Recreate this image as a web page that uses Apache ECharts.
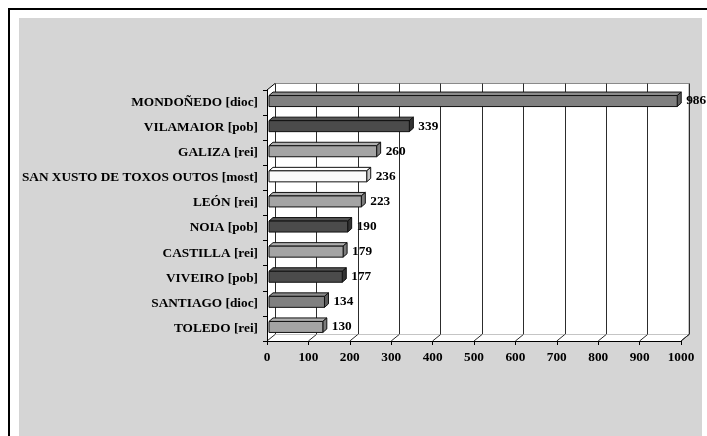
<!DOCTYPE html>
<html>
<head>
<meta charset="utf-8">
<script src="https://cdn.jsdelivr.net/npm/echarts@6/dist/echarts.min.js"></script>
<style>
html,body{margin:0;padding:0;background:#fff;}
#chart{width:707px;height:436px;}
</style>
</head>
<body>
<div id="chart"></div>
<script>
// data
var categories = ['MONDOÑEDO [dioc]', 'VILAMAIOR [pob]', 'GALIZA [rei]', 'SAN XUSTO DE TOXOS OUTOS [most]',
  'LEÓN [rei]', 'NOIA [pob]', 'CASTILLA [rei]', 'VIVEIRO [pob]', 'SANTIAGO [dioc]', 'TOLEDO [rei]'];
var values = [986, 339, 260, 236, 223, 190, 179, 177, 134, 130];
var kinds = ['dioc', 'pob', 'rei', 'most', 'rei', 'pob', 'rei', 'pob', 'dioc', 'rei'];
var xTicks = [0, 100, 200, 300, 400, 500, 600, 700, 800, 900, 1000];

// colour for each kind: [front, side, top]
var kindColor = {
  dioc: ['#808080', '#5c5c5c', '#8c8c8c'],
  pob:  ['#4b4b4b', '#333333', '#555555'],
  rei:  ['#a4a4a4', '#7c7c7c', '#b0b0b0'],
  most: ['#fafafa', '#c8c8c8', '#ffffff']
};

var DX = 8, DY = -6.5;   // depth of the 3d box
var serif = '"Liberation Serif", "Times New Roman", serif';

var chart = echarts.init(document.getElementById('chart'));

var option = {
  animation: false,
  backgroundColor: '#fff',
  graphic: [
    { type: 'rect', shape: { x: 19, y: 18, width: 683, height: 420 }, style: { fill: '#d5d5d5' }, z: -10 },
    { type: 'line', shape: { x1: 8, y1: 9, x2: 707, y2: 9 }, style: { stroke: '#000', lineWidth: 2 }, z: -10 },
    { type: 'line', shape: { x1: 9, y1: 8, x2: 9, y2: 436 }, style: { stroke: '#000', lineWidth: 2 }, z: -10 }
  ],
  grid: [
    { left: 267, top: 90, width: 414, height: 251 },
    { left: 275, top: 83.5, width: 414, height: 251, show: true, backgroundColor: '#fff', borderColor: '#8a8a8a', borderWidth: 1 }
  ],
  xAxis: [
    {
      gridIndex: 0, type: 'value', min: 0, max: 1000, interval: 100, z: 10,
      axisLine: { show: true, lineStyle: { color: '#000', width: 1 } },
      axisTick: { show: true, length: 4, lineStyle: { color: '#000' } },
      splitLine: { show: false },
      axisLabel: { margin: 10, color: '#000', fontFamily: serif, fontWeight: 'bold', fontSize: 13.3,
        formatter: function (v) { return String(v); } }
    },
    {
      gridIndex: 1, type: 'value', min: 0, max: 1000, interval: 100,
      axisLine: { show: false }, axisTick: { show: false }, axisLabel: { show: false },
      splitLine: { show: true, lineStyle: { color: '#2c2c2c', width: 1 } }
    }
  ],
  yAxis: [
    {
      gridIndex: 0, type: 'category', data: categories, inverse: true, z: 10,
      axisLine: { show: true, lineStyle: { color: '#000', width: 1 } },
      axisTick: { show: true, length: 4, lineStyle: { color: '#000' } },
      axisLabel: { margin: 9, color: '#000', fontFamily: serif, fontWeight: 'bold', fontSize: 13.3 }
    },
    {
      gridIndex: 1, type: 'category', data: categories, inverse: true, show: false
    }
  ],
  series: [
    {
      // left wall and floor
      type: 'custom', xAxisIndex: 0, yAxisIndex: 0, z: 1, silent: true,
      data: [[0, 0]],
      renderItem: function (params, api) {
        var cs = params.coordSys;
        var x0 = cs.x, y0 = cs.y, x1 = cs.x + cs.width, y1 = cs.y + cs.height;
        return {
          type: 'group',
          children: [
            { type: 'polygon', shape: { points: [[x0, y0], [x0 + DX, y0 + DY], [x0 + DX, y1 + DY], [x0, y1]] },
              style: { fill: '#fff', stroke: null } },
            { type: 'polygon', shape: { points: [[x0, y1], [x1, y1], [x1 + DX, y1 + DY], [x0 + DX, y1 + DY]] },
              style: { fill: '#fff', stroke: null } },
            { type: 'line', shape: { x1: x0, y1: y0, x2: x0 + DX, y2: y0 + DY }, style: { stroke: '#000', lineWidth: 1 } },
            { type: 'line', shape: { x1: x1, y1: y1, x2: x1 + DX, y2: y1 + DY }, style: { stroke: '#2c2c2c', lineWidth: 1 } }
          ]
        };
      }
    },
    {
      // floor lines at each tick
      type: 'custom', xAxisIndex: 0, yAxisIndex: 0, z: 1, silent: true,
      data: xTicks.map(function (t) { return [t, 0]; }),
      renderItem: function (params, api) {
        var cs = params.coordSys;
        var x = api.coord([api.value(0), 0])[0];
        var y = cs.y + cs.height;
        return { type: 'line', shape: { x1: x, y1: y, x2: x + DX, y2: y + DY }, style: { stroke: '#2c2c2c', lineWidth: 1 } };
      }
    },
    {
      // 3d bars
      type: 'custom', xAxisIndex: 0, yAxisIndex: 0, z: 3,
      data: values.map(function (v, i) { return [v, i]; }),
      renderItem: function (params, api) {
        var i = api.value(1), v = api.value(0);
        var c = kindColor[kinds[i]];
        var p0 = api.coord([0, i]);
        var p1 = api.coord([v, i]);
        var bx0 = p0[0] + 2, bx1 = p1[0] + 2;
        var cy = p0[1] - 1.5;
        var yt = cy - 5.5, yb = cy + 5.5;
        var dx = 4, dy = -3.5;
        var stroke = '#111';
        return {
          type: 'group',
          children: [
            { type: 'polygon', shape: { points: [[bx0, yt], [bx0 + dx, yt + dy], [bx1 + dx, yt + dy], [bx1, yt]] },
              style: { fill: c[2], stroke: stroke, lineWidth: 1 } },
            { type: 'polygon', shape: { points: [[bx1, yt], [bx1 + dx, yt + dy], [bx1 + dx, yb + dy], [bx1, yb]] },
              style: { fill: c[1], stroke: stroke, lineWidth: 1 } },
            { type: 'rect', shape: { x: bx0, y: yt, width: bx1 - bx0, height: yb - yt },
              style: { fill: c[0], stroke: stroke, lineWidth: 1 } },
            { type: 'text', style: { text: String(v), x: bx1 + 9, y: cy, verticalAlign: 'middle', align: 'left',
              fill: '#000', font: 'bold 13.3px ' + serif } }
          ]
        };
      }
    }
  ]
};

chart.setOption(option);
</script>
</body>
</html>
